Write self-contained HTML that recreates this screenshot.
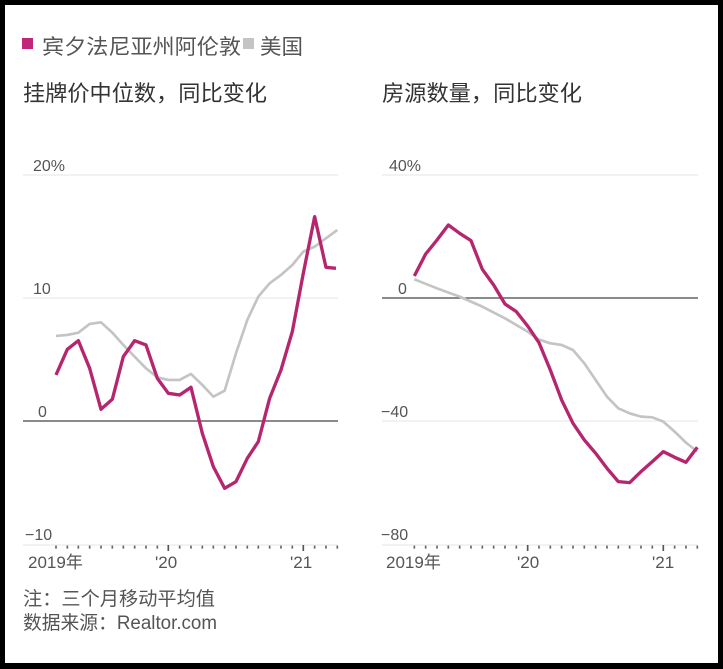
<!DOCTYPE html>
<html><head><meta charset="utf-8"><style>
body{margin:0;width:723px;height:669px;background:#000;overflow:hidden;font-family:"Liberation Sans","Noto Sans CJK SC",sans-serif}
#w{position:absolute;left:5px;top:5px;width:713px;height:658px;background:#fff}
svg{position:absolute;left:0;top:0}
</style></head><body><div id="w"></div>
<svg width="723" height="669" viewBox="0 0 723 669" font-family="Liberation Sans, Noto Sans CJK SC, sans-serif">
<rect x="22" y="38" width="11" height="11" fill="#c0267a"/>
<text x="42" y="54" font-size="21" fill="#555" textLength="199" lengthAdjust="spacingAndGlyphs">宾夕法尼亚州阿伦敦</text>
<rect x="243" y="38" width="11" height="11" fill="#c4c4c4"/>
<text x="260" y="54" font-size="21" fill="#555" textLength="43" lengthAdjust="spacingAndGlyphs">美国</text>
<text x="23" y="101" font-size="22" fill="#333" textLength="244" lengthAdjust="spacingAndGlyphs">挂牌价中位数，同比变化</text>
<text x="382" y="101" font-size="22" fill="#333" textLength="200" lengthAdjust="spacingAndGlyphs">房源数量，同比变化</text>
<g font-size="16" fill="#555">
<text x="33" y="171">20%</text><text x="33" y="294">10</text><text x="38" y="417">0</text><text x="25" y="540">−10</text>
<text x="389" y="171">40%</text><text x="398" y="294">0</text><text x="381" y="417">−40</text><text x="381" y="540">−80</text>
</g>
<g font-size="17" fill="#555">
<text x="28" y="568">2019年</text><text x="155" y="568">'20</text><text x="290" y="568">'21</text>
<text x="386" y="568">2019年</text><text x="517" y="568">'20</text><text x="652" y="568">'21</text>
</g>
<g stroke="#e6e6e6" stroke-width="1">
<line x1="23" y1="175" x2="338" y2="175"/><line x1="23" y1="298" x2="338" y2="298"/><line x1="23" y1="545" x2="338" y2="545"/>
<line x1="382" y1="175" x2="698" y2="175"/><line x1="382" y1="421" x2="698" y2="421"/><line x1="382" y1="545" x2="698" y2="545"/>
</g>
<line x1="23" y1="421" x2="338" y2="421" stroke="#444" stroke-width="1.2"/>
<line x1="382" y1="298" x2="698" y2="298" stroke="#444" stroke-width="1.2"/>
<g transform="translate(20,150) scale(0.3333)" fill="none" stroke-linejoin="round">
<path d="M108,1187v9M142,1187v9M175,1187v9M209,1187v9M243,1187v9M277,1187v9M310,1187v9M344,1187v9M378,1187v9M412,1187v9M479,1187v9M513,1187v9M547,1187v9M580,1187v9M614,1187v9M648,1187v9M682,1187v9M715,1187v9M749,1187v9M783,1187v9M817,1187v9M884,1187v9M918,1187v9M952,1187v9" stroke="#666" stroke-width="5"/>
<path d="M445,1185v18M850,1185v18" stroke="#555" stroke-width="5"/>
<polyline stroke="#c4c4c4" stroke-width="8" points="108,558 142,555 175,548 209,522 243,517 277,548 310,585 344,620 378,655 412,682 445,690 479,690 513,672 547,705 580,740 614,722 648,610 682,510 715,440 749,400 783,375 817,345 850,305 884,290 918,265 952,240"/>
<polyline stroke="#b5266f" stroke-width="10" points="108,675 142,598 175,572 209,655 243,778 277,748 310,620 344,572 378,585 412,685 445,730 479,735 513,712 547,850 580,950 614,1015 648,995 682,925 715,875 749,745 783,660 817,545 850,370 884,200 918,352 948,355"/>
</g>
<g transform="translate(375,150) scale(0.3333)" fill="none" stroke-linejoin="round">
<path d="M118,1187v9M152,1187v9M186,1187v9M220,1187v9M254,1187v9M288,1187v9M322,1187v9M356,1187v9M390,1187v9M424,1187v9M492,1187v9M526,1187v9M560,1187v9M594,1187v9M628,1187v9M662,1187v9M696,1187v9M730,1187v9M764,1187v9M798,1187v9M832,1187v9M899,1187v9M933,1187v9M967,1187v9" stroke="#666" stroke-width="5"/>
<path d="M458,1185v18M865,1185v18" stroke="#555" stroke-width="5"/>
<polyline stroke="#c4c4c4" stroke-width="8" points="118,388 186,415 254,440 322,470 390,505 458,545 490,568 526,580 560,585 594,600 628,640 662,690 696,740 730,775 764,790 798,800 832,802 865,815 899,845 933,878 967,905"/>
<polyline stroke="#b5266f" stroke-width="10" points="118,378 152,312 186,270 220,225 254,250 288,272 322,358 356,405 390,462 424,485 458,528 492,578 526,660 560,750 594,820 628,870 662,910 696,955 730,995 764,998 798,965 832,935 865,905 899,922 933,937 967,892"/>
</g>
<text x="23" y="605" font-size="19" fill="#555" textLength="192" lengthAdjust="spacingAndGlyphs">注：三个月移动平均值</text>
<text x="23" y="629" font-size="19" fill="#555" textLength="194" lengthAdjust="spacingAndGlyphs">数据来源：Realtor.com</text>
</svg></body></html>
